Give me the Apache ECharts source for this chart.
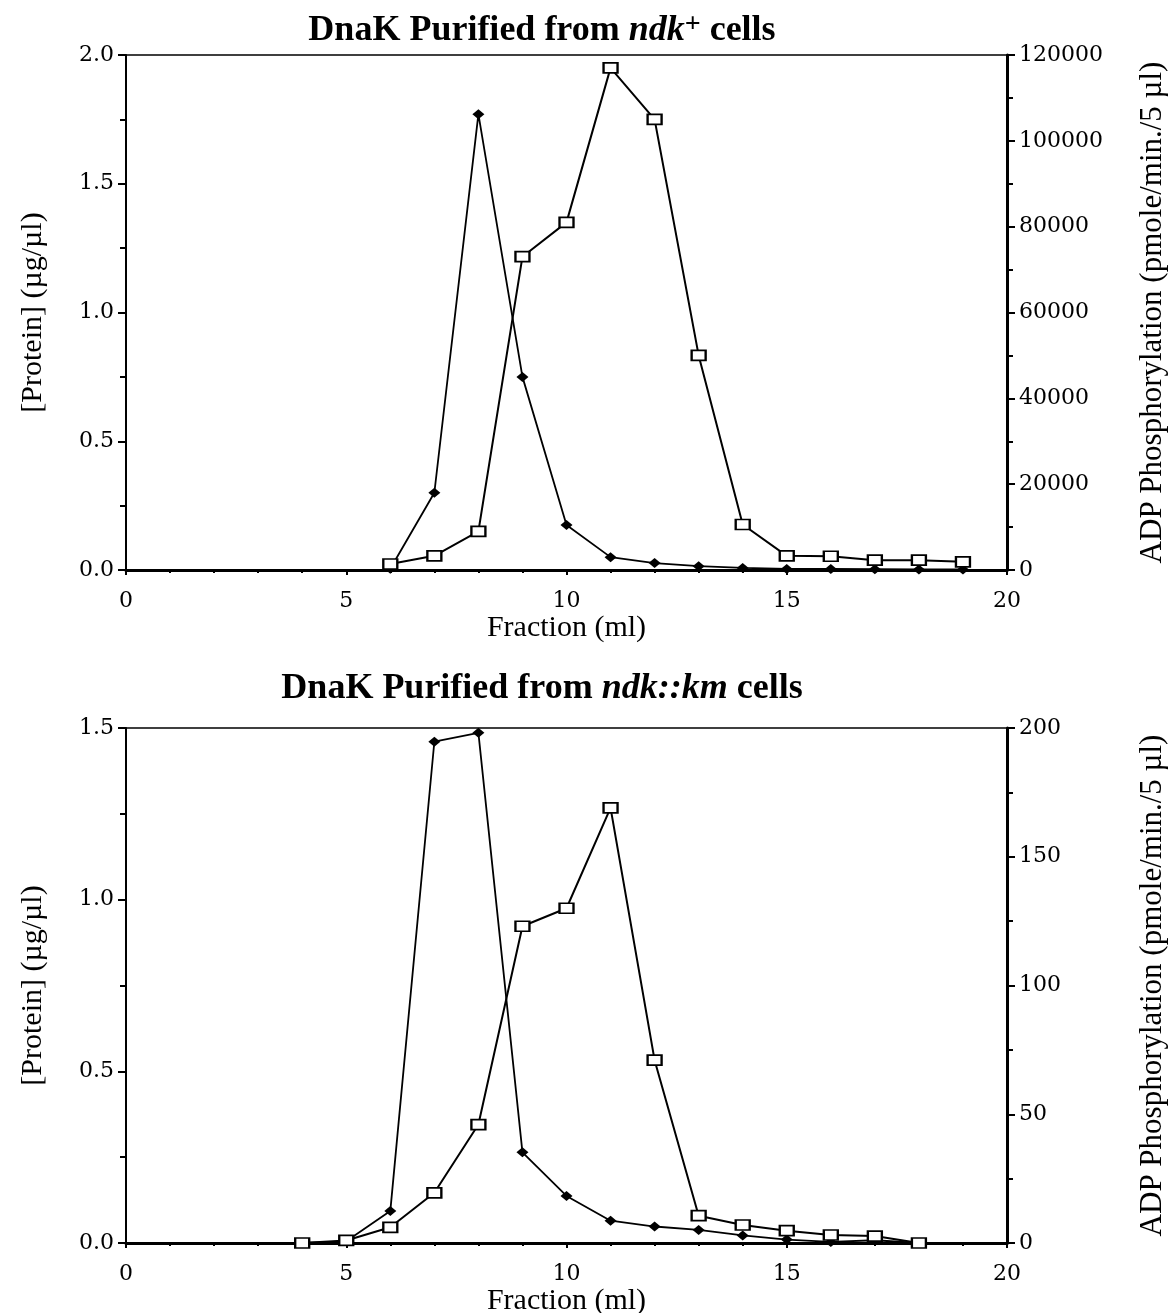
<!DOCTYPE html>
<html>
<head>
<meta charset="utf-8">
<script src="https://cdn.jsdelivr.net/npm/echarts@6/dist/echarts.min.js"></script>
<style>
html,body{margin:0;padding:0;background:#fff;}
#c{width:1172px;height:1313px;}
</style>
</head>
<body>
<div id="c"></div>
<script>
// ---- Data (top panel: ndk+ cells) ----
const fractionTop = [6, 7, 8, 9, 10, 11, 12, 13, 14, 15, 16, 17, 18, 19];
const proteinTop  = [0.005, 0.30, 1.77, 0.75, 0.175, 0.05, 0.027, 0.015, 0.008, 0.004, 0.004, 0.003, 0.002, 0.002];
const adpTop      = [1400, 3300, 9000, 73000, 81000, 117000, 105000, 50000, 10600, 3300, 3200, 2300, 2300, 1900];

// ---- Data (bottom panel: ndk::km cells) ----
const fractionBottom = [4, 5, 6, 7, 8, 9, 10, 11, 12, 13, 14, 15, 16, 17, 18];
const proteinBottom  = [0.0, 0.005, 0.093, 1.46, 1.486, 0.264, 0.137, 0.065, 0.048, 0.038, 0.022, 0.01, 0.003, 0.008, 0.0];
const adpBottom      = [0, 1, 6.1, 19.5, 46, 123, 130, 169, 71, 10.6, 7.0, 4.8, 3.1, 2.7, 0];

// axis ranges
const leftTopMax = 2.0, rightTopMax = 120000, rightTopInterval = 20000;
const leftBottomMax = 1.5, rightBottomMax = 200, rightBottomInterval = 50;

const zip = (xs, ys) => xs.map((x, i) => [x, ys[i]]);

const serif = 'Liberation Serif';
const tickFont = 'DejaVu Serif';

function xAxis(gridIndex) {
  return {
    type: 'value', gridIndex, min: 0, max: 20, interval: 5,
    name: 'Fraction (ml)', nameLocation: 'middle', nameGap: 42,
    nameTextStyle: { fontFamily: serif, fontSize: 30, color: '#000' },
    axisLine: { show: true, onZero: false, lineStyle: { color: '#000', width: 3 } },
    axisTick: { show: true, length: 5, lineStyle: { color: '#000', width: 2 } },
    minorTick: { show: true, splitNumber: 5, length: 3, lineStyle: { color: '#000', width: 2 } },
    axisLabel: { fontFamily: tickFont, fontSize: 22, color: '#000', margin: 20 },
    splitLine: { show: false }, minorSplitLine: { show: false }
  };
}
function yLeft(gridIndex, max) {
  return {
    type: 'value', gridIndex, position: 'left', min: 0, max, interval: 0.5,
    name: '[Protein] (µg/µl)', nameLocation: 'middle', nameGap: 78, nameRotate: 90,
    nameTextStyle: { fontFamily: serif, fontSize: 30, color: '#000' },
    axisLine: { show: true, onZero: false, lineStyle: { color: '#000', width: 2 } },
    axisTick: { show: true, length: 8, lineStyle: { color: '#000', width: 2 } },
    minorTick: { show: true, splitNumber: 2, length: 6, lineStyle: { color: '#000', width: 2 } },
    axisLabel: { fontFamily: tickFont, fontSize: 22, color: '#000', margin: 12,
      formatter: v => v.toFixed(1) },
    splitLine: { show: false }, minorSplitLine: { show: false }
  };
}
function yRight(gridIndex, max, interval) {
  return {
    type: 'value', gridIndex, position: 'right', min: 0, max, interval,
    name: 'ADP Phosphorylation (pmole/min./5 µl)', nameLocation: 'middle', nameGap: 130, nameRotate: 90,
    nameTextStyle: { fontFamily: serif, fontSize: 31, color: '#000' },
    axisLine: { show: true, onZero: false, lineStyle: { color: '#000', width: 3 } },
    axisTick: { show: true, length: 8, lineStyle: { color: '#000', width: 2 } },
    minorTick: { show: true, splitNumber: 2, length: 6, lineStyle: { color: '#000', width: 2 } },
    axisLabel: { fontFamily: tickFont, fontSize: 22, color: '#000', margin: 12,
      formatter: v => String(v) },
    splitLine: { show: false }, minorSplitLine: { show: false }
  };
}

const titleRich = {
  b: { fontFamily: serif, fontWeight: 'bold', fontSize: 36, color: '#000', lineHeight: 40 },
  i: { fontFamily: serif, fontWeight: 'bold', fontStyle: 'italic', fontSize: 36, color: '#000', lineHeight: 40 },
  s: { fontFamily: serif, fontWeight: 'bold', fontSize: 28, color: '#000', lineHeight: 20, verticalAlign: 'top' }
};

function diamondSeries(xi, yi, data) {
  return {
    type: 'line', xAxisIndex: xi, yAxisIndex: yi, data,
    symbol: 'diamond', symbolSize: [12, 10], showSymbol: true,
    lineStyle: { color: '#000', width: 1.8 },
    itemStyle: { color: '#000', borderColor: '#000', borderWidth: 0 },
    animation: false, z: 2
  };
}
function squareSeries(xi, yi, data) {
  return {
    type: 'line', xAxisIndex: xi, yAxisIndex: yi, data,
    symbol: 'rect', symbolSize: [14, 10], showSymbol: true,
    lineStyle: { color: '#000', width: 2 },
    itemStyle: { color: '#fff', borderColor: '#000', borderWidth: 2 },
    animation: false, z: 3
  };
}

const gridCommon = { width: 881, height: 515, show: true, borderColor: '#000', borderWidth: 1.5,
  backgroundColor: 'transparent', containLabel: false, outerBoundsMode: 'none' };

const chart = echarts.init(document.getElementById('c'), null, { renderer: 'canvas' });
chart.setOption({
  backgroundColor: '#fff',
  animation: false,
  title: [
    { text: '{b|DnaK Purified from }{i|ndk}{s|+}{b| cells}', left: 537, top: 6, textAlign: 'center',
      textStyle: { rich: titleRich } },
    { text: '{b|DnaK Purified from }{i|ndk::km}{b| cells}', left: 537, top: 664, textAlign: 'center',
      textStyle: { rich: titleRich } }
  ],
  grid: [
    Object.assign({ left: 126, top: 55 }, gridCommon),
    Object.assign({ left: 126, top: 728 }, gridCommon)
  ],
  xAxis: [xAxis(0), xAxis(1)],
  yAxis: [
    yLeft(0, leftTopMax), yRight(0, rightTopMax, rightTopInterval),
    yLeft(1, leftBottomMax), yRight(1, rightBottomMax, rightBottomInterval)
  ],
  series: [
    diamondSeries(0, 0, zip(fractionTop, proteinTop)),
    squareSeries(0, 1, zip(fractionTop, adpTop)),
    diamondSeries(1, 2, zip(fractionBottom, proteinBottom)),
    squareSeries(1, 3, zip(fractionBottom, adpBottom))
  ]
});
</script>
</body>
</html>
